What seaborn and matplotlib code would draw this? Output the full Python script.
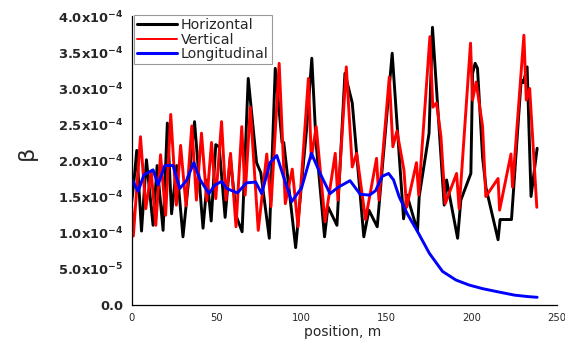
import matplotlib
matplotlib.use("Agg")
import matplotlib.pyplot as plt
from matplotlib.lines import Line2D
from matplotlib.ticker import MultipleLocator
import numpy as np
import pandas as pd
import seaborn as sns

# ---------------- data (beta in units of 1e-4) ----------------
SCALE = 1e-4

h_pos = [0, 1.2, 3, 5.8, 8.7, 12.6, 15, 18.5, 21, 23.5, 26.5, 30.2, 37, 42, 44.5,
         46.8, 49.5, 51.5, 55, 58, 61.8, 65, 68.6, 73.5, 76, 81, 84.5, 88.5, 89.5,
         96.5, 103, 106, 108.5, 113.5, 115.5, 120.8, 125.5, 129.8, 136.6, 139.6,
         144.5, 150.4, 153.3, 160, 162, 168.2, 169.2, 175, 177, 183.9, 185.3, 191.8,
         193.7, 199.6, 200.6, 202.1, 203.5, 206.5, 208.5, 215.6, 216.8, 223.5, 229.2,
         230.5, 232.7, 235, 238.6]
h_val = [1.42, 1.67, 2.14, 1.02, 2.01, 1.10, 1.93, 1.03, 2.52, 1.26, 1.93, 0.94, 2.54, 1.06, 1.73,
         1.16, 2.22, 2.19, 1.21, 2.04, 1.21, 1.01, 3.14, 1.97, 1.83, 0.92, 3.28, 2.25, 2.25,
         0.79, 2.45, 3.42, 2.25, 0.94, 1.36, 1.10, 3.21, 2.80, 0.94, 1.31,
         1.08, 2.70, 3.49, 1.19, 1.52, 1.02, 1.50, 2.38, 3.85, 1.38, 1.73, 0.92,
         1.45, 1.82, 3.21, 3.35, 3.28, 2.04, 1.62, 0.90, 1.18, 1.18, 3.12,
         3.08, 3.30, 1.50, 2.17]

v_pos = [0, 1, 5.2, 8.3, 11.5, 14.2, 17, 20, 23, 26.3, 28.8, 32, 35.4, 38.1, 41.1,
         44.2, 47, 49.5, 52.9, 55.5, 58.2, 61.4, 64.8, 66.8, 69.8, 74.5, 79.5, 82,
         86.8, 90.4, 94.5, 97.9, 104, 105.7, 108.6, 113.8, 119.8, 121.4, 126.3,
         129.8, 132.4, 137.6, 144.1, 145.5, 151.6, 153.7, 156.1, 160.2, 161.8,
         167.6, 168.9, 175.5, 177.2, 179.4, 182, 184.5, 191.2, 192.7, 199.4, 200.6,
         202.7, 206.5, 208.4, 209.6, 215.6, 216.5, 223.2, 224.1, 230.8, 232.2,
         234.2, 238.4]
v_val = [1.36, 0.95, 2.33, 1.33, 1.85, 1.10, 2.08, 1.24, 2.64, 1.38, 2.21, 1.37, 2.48, 1.45, 2.38,
         1.44, 2.25, 1.47, 2.54, 1.45, 2.10, 1.08, 2.47, 1.52, 2.74, 1.03, 2.09, 1.36,
         3.35, 1.40, 1.88, 1.08, 3.14, 2.03, 2.47, 1.15, 2.10, 1.45, 3.30,
         1.91, 2.10, 1.18, 2.03, 1.45, 3.16, 2.19, 2.41, 1.87, 1.35,
         1.97, 1.52, 3.72, 2.74, 2.80, 2.33, 1.40, 1.82, 1.33, 3.63, 2.84,
         3.09, 2.47, 1.50, 1.54, 1.75, 1.31, 2.09, 1.63, 3.74, 2.84,
         3.00, 1.35]

l_pos = [0, 3.8, 7.2, 12.6, 15.5, 19.5, 24.4, 28.3, 32.2, 36.6, 40.1, 45.5, 49, 53, 56,
         62.2, 67.6, 73, 76.5, 81.4, 85.4, 89.3, 94.2, 100, 105.8, 110.9, 116.7, 121.6,
         128.5, 134.5, 140, 143.5, 147.4, 151.2, 154.1, 157.5, 162.4, 168.3, 175.2,
         182.9, 190.8, 198.6, 206.5, 214.7, 225.3, 233.1, 238.6]
l_val = [1.75, 1.57, 1.80, 1.87, 1.66, 1.93, 1.93, 1.61, 1.72, 1.97, 1.74, 1.54, 1.66, 1.71, 1.61,
         1.55, 1.69, 1.70, 1.54, 1.97, 2.07, 1.78, 1.43, 1.62, 2.10, 1.82, 1.54, 1.63,
         1.72, 1.53, 1.52, 1.58, 1.78, 1.82, 1.73, 1.49, 1.25, 1.01, 0.71,
         0.46, 0.34, 0.27, 0.22, 0.18, 0.13, 0.11, 0.10]

series_names = ["Horizontal", "Vertical", "Longitudinal"]
series_colors = ["#000000", "#ff0000", "#0000ff"]

x_ticks = [0, 50, 100, 150, 200, 250]
x_tick_labels = ["0", "50", "100", "150", "200", "250"]
y_ticks = [0, 0.5, 1.0, 1.5, 2.0, 2.5, 3.0, 3.5, 4.0]
y_tick_labels = ["0.0", r"5.0x10$^{-5}$", r"1.0x10$^{-4}$", r"1.5x10$^{-4}$",
                 r"2.0x10$^{-4}$", r"2.5x10$^{-4}$", r"3.0x10$^{-4}$",
                 r"3.5x10$^{-4}$", r"4.0x10$^{-4}$"]

# ---------------- build table ----------------
frames = []
for name, p, v in zip(series_names, [h_pos, v_pos, l_pos], [h_val, v_val, l_val]):
    frames.append(pd.DataFrame({"pos": p, "beta": np.array(v) * SCALE, "series": name}))
df = pd.concat(frames, ignore_index=True)

# ---------------- style ----------------
sns.set_style("white")
plt.rcParams["font.family"] = ["DejaVu Sans"]
plt.rcParams["mathtext.fontset"] = "dejavusans"
plt.rcParams["mathtext.default"] = "bf"

fig = plt.figure(figsize=(5.65, 3.48), dpi=100)
ax = fig.add_axes([0.233, 0.125, 0.752, 0.8276])

sns.lineplot(data=df, x="pos", y="beta", hue="series", hue_order=series_names,
             palette=dict(zip(series_names, series_colors)), estimator=None,
             sort=False, linewidth=2.1, legend=False, ax=ax)

ax.set_xlim(0, 250)
ax.set_ylim(0, 4.0e-4)
ax.set_xticks(x_ticks)
ax.set_xticklabels(x_tick_labels, fontsize=7.2)
ax.xaxis.set_minor_locator(MultipleLocator(25))
ax.set_yticks(np.array(y_ticks) * SCALE)
ax.set_yticklabels(y_tick_labels, fontsize=9.4, fontweight="bold")
ax.yaxis.set_minor_locator(MultipleLocator(0.25 * SCALE))

ax.tick_params(axis="both", which="major", direction="out", length=4, width=0.9,
               color="black", pad=2)
ax.tick_params(axis="both", which="minor", direction="out", length=2.2, width=0.8,
               color="black")
for side in ["top", "right"]:
    ax.spines[side].set_visible(False)
for side in ["left", "bottom"]:
    ax.spines[side].set_color("black")
    ax.spines[side].set_linewidth(0.9)

ax.set_xlabel("position, m", fontsize=10)
ax.xaxis.set_label_coords(0.497, -0.07)
ax.set_ylabel("β", fontsize=16)
ax.yaxis.set_label_coords(-0.222, 0.526)

handles = [Line2D([], [], color=series_colors[0], lw=2.2),
           Line2D([], [], color=series_colors[1], lw=1.4),
           Line2D([], [], color=series_colors[2], lw=2.2)]
leg = ax.legend(handles, series_names, loc="upper left", bbox_to_anchor=(0.005, 1.005),
                borderaxespad=0, fontsize=10.3, frameon=True, fancybox=False,
                handlelength=2.8, handletextpad=0.3, labelspacing=0.05,
                borderpad=0.2)
leg.get_frame().set_edgecolor("#808080")
leg.get_frame().set_linewidth(0.8)

fig.savefig("out.png", dpi=100)
